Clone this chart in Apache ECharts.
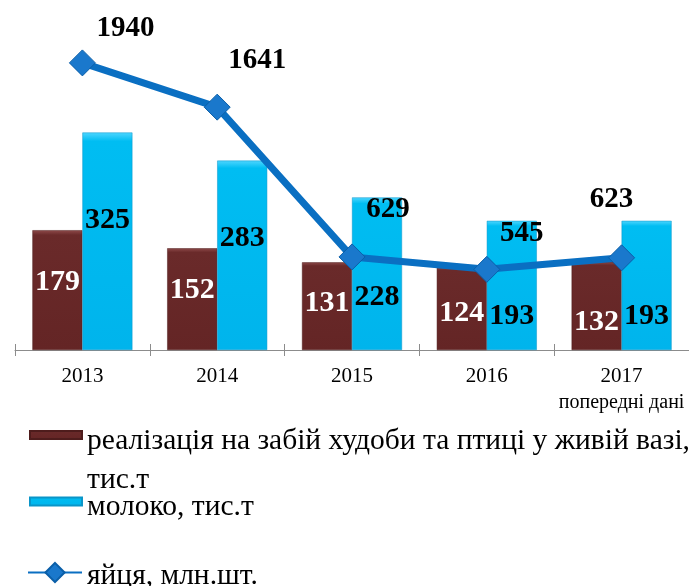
<!DOCTYPE html>
<html>
<head>
<meta charset="utf-8">
<script src="https://cdn.jsdelivr.net/npm/echarts@6/dist/echarts.min.js"></script>
<style>
html,body{margin:0;padding:0;background:#fff;}
#chart{width:689px;height:586px;}
</style>
</head>
<body>
<div id="chart"></div>
<script>
// ---- data ----
const categories = ['2013', '2014', '2015', '2016', '2017'];
const categoryNotes = ['', '', '', '', 'попередні дані'];
const meatName = 'реалізація на забій худоби та птиці у живій вазі, тис.т';
const meatLegendLines = ['реалізація на забій худоби та птиці у живій вазі,', 'тис.т'];
const milkName = 'молоко, тис.т';
const eggsName = 'яйця, млн.шт.';
const meat = [179, 152, 131, 124, 132];
const milk = [325, 283, 228, 193, 193];
const eggs = [1940, 1641, 629, 545, 623];

// ---- label styling (offsets, not data) ----
const meatLabelDy = [-8, -9, -3, 5, 16];
const milkLabelDy = [-21, -17, 24, 31, 31];
const eggLabelOffset = [[43, -34], [40, -47], [36, -47], [35, -36], [-10, -58]];

const FONT = "'Liberation Serif','Times New Roman',serif";

const chart = echarts.init(document.getElementById('chart'));

function legendRich(spacer) {
  return {
    e: { fontSize: 1, lineHeight: spacer },
    t: { fontFamily: FONT, fontSize: 29.5, color: '#000', lineHeight: 39 }
  };
}

const option = {
  animation: false,
  backgroundColor: '#fff',
  grid: { left: 15, right: 0, top: 0, bottom: 236 },
  xAxis: [
    {
      type: 'category',
      data: categories,
      axisLine: { lineStyle: { color: '#8c8c8c', width: 1 } },
      axisTick: { show: true, interval: 0, length: 6, lineStyle: { color: '#8c8c8c' } },
      axisLabel: {
        interval: 0,
        margin: 13,
        fontFamily: FONT,
        fontSize: 21,
        lineHeight: 26,
        color: '#000',
        formatter: function (v, i) {
          const note = categoryNotes[i];
          return note ? v + '\n{s|' + note + '}' : v;
        },
        rich: { s: { fontFamily: FONT, fontSize: 20, color: '#000', lineHeight: 27 } }
      }
    },
    {
      type: 'category',
      data: categories,
      position: 'bottom',
      axisLine: { show: false },
      axisTick: { show: true, inside: true, interval: 0, length: 6, lineStyle: { color: '#8c8c8c' } },
      axisLabel: { show: false },
      splitLine: { show: false }
    }
  ],
  yAxis: [
    { type: 'value', min: 0, max: 523, show: false, splitLine: { show: false } },
    { type: 'value', min: 0, max: 2365, show: false, splitLine: { show: false } }
  ],
  legend: [
    {
      data: [{ name: meatName, icon: 'rect' }],
      orient: 'vertical', left: 24, top: 390.5,
      itemWidth: 52, itemHeight: 8,
      formatter: function () {
        return '{e| }\n{t|' + meatLegendLines[0] + '}\n{t|' + meatLegendLines[1] + '}';
      },
      textStyle: { fontFamily: FONT, fontSize: 29.5, color: '#000', rich: legendRich(51) }
    },
    {
      data: [{ name: milkName, icon: 'rect' }],
      orient: 'vertical', left: 24, top: 476.5,
      itemWidth: 52, itemHeight: 8,
      formatter: function (n) { return '{e| }\n{t|' + n + '}'; },
      textStyle: { fontFamily: FONT, fontSize: 29.5, color: '#000', rich: legendRich(12) }
    },
    {
      data: [{ name: eggsName }],
      orient: 'vertical', left: 22, top: 547.5,
      itemWidth: 54, itemHeight: 24,
      formatter: function (n) { return '{e| }\n{t|' + n + '}'; },
      textStyle: { fontFamily: FONT, fontSize: 29.5, color: '#000', rich: legendRich(8) }
    }
  ],
  series: [
    {
      name: meatName,
      type: 'bar',
      yAxisIndex: 0,
      barWidth: 50,
      barGap: '0%',
      itemStyle: {
        color: new echarts.graphic.LinearGradient(0, 0, 0, 1, [
          { offset: 0, color: '#8e4a4a' },
          { offset: 0.04, color: '#6a2a2a' },
          { offset: 1, color: '#642525' }
        ]),
        borderColor: '#4e1c1c', borderWidth: 0.5
      },
      label: {
        show: true, position: 'inside',
        fontFamily: FONT, fontSize: 30, fontWeight: 'bold', color: '#fff'
      },
      data: meat.map((v, i) => ({ value: v, label: { offset: [0, meatLabelDy[i]] } }))
    },
    {
      name: milkName,
      type: 'bar',
      yAxisIndex: 0,
      barWidth: 50,
      barGap: '0%',
      itemStyle: {
        color: new echarts.graphic.LinearGradient(0, 0, 0, 1, [
          { offset: 0, color: '#4fd6ff' },
          { offset: 0.04, color: '#00bdf2' },
          { offset: 1, color: '#00b4ec' }
        ]),
        borderColor: '#0a95c8', borderWidth: 0.5
      },
      label: {
        show: true, position: 'inside',
        fontFamily: FONT, fontSize: 30, fontWeight: 'bold', color: '#000'
      },
      data: milk.map((v, i) => ({ value: v, label: { offset: [0, milkLabelDy[i]] } }))
    },
    {
      name: eggsName,
      type: 'line',
      yAxisIndex: 1,
      z: 5,
      symbol: 'diamond',
      symbolSize: 26,
      showAllSymbol: true,
      lineStyle: { color: '#0a6fc2', width: 7 },
      itemStyle: { color: '#1a78cc', borderColor: '#0b5fa8', borderWidth: 1 },
      label: {
        show: true, position: 'inside',
        fontFamily: FONT, fontSize: 29, fontWeight: 'bold', color: '#000'
      },
      data: eggs.map((v, i) => ({ value: v, label: { offset: eggLabelOffset[i] } }))
    }
  ]
};

chart.setOption(option);
</script>
</body>
</html>
